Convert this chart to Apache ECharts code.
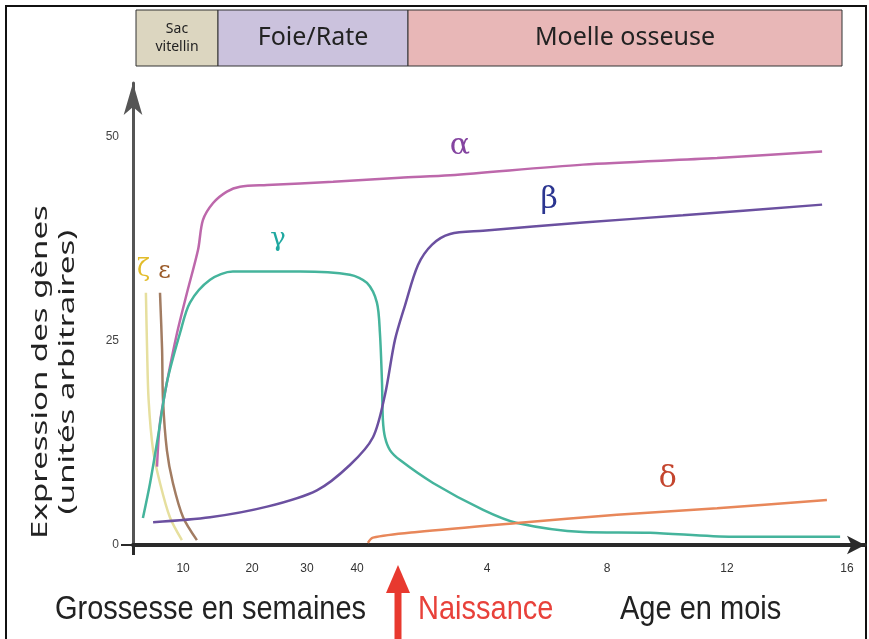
<!DOCTYPE html>
<html>
<head>
<meta charset="utf-8">
<script src="https://cdn.jsdelivr.net/npm/echarts@6/dist/echarts.min.js"></script>
<style>
  html, body, #main { margin: 0; padding: 0; width: 869px; height: 639px; overflow: hidden; background: #fff; }
</style>
</head>
<body>
<div id="main"></div>
<script>
// axe x : mois après la naissance (les semaines de grossesse sont placées avant 0)
const xTickPos = [-6.13, -3.83, -2.0, -0.33, 4, 8, 12, 16];
const xTickLabels = ["10", "20", "30", "40", "4", "8", "12", "16"];
const yTickVals = [0, 25, 50];

// courbes [x, expression]
const zetaData = [[-7.37, 30.9], [-7.33, 23.9], [-7.28, 17.8], [-7.13, 11.6], [-6.9, 7.6], [-6.57, 3.4], [-6.17, 0.6]];
const epsilonData = [[-6.9, 30.9], [-6.83, 23.9], [-6.8, 17.8], [-6.67, 11.6], [-6.47, 7.6], [-6.13, 3.4], [-5.67, 0.6]];
const alphaData = [[-7.0, 9.6], [-6.9, 15.0], [-6.67, 19.9], [-6.33, 26.0], [-6.0, 30.9], [-5.63, 36.2], [-5.47, 39.8],
  [-5.13, 41.9], [-4.67, 43.3], [-4.23, 43.9], [-3.33, 44.1], [-1.13, 44.5], [1.1, 45.0], [2.77, 45.3],
  [7.2, 46.6], [11.67, 47.4], [15.17, 48.2]];
const gammaData = [[-7.47, 3.3], [-7.23, 7.6], [-6.97, 13.2], [-6.67, 19.9], [-6.23, 26.0], [-5.9, 29.7], [-5.23, 32.5],
  [-4.47, 33.5], [-2.23, 33.5], [-0.57, 33.1], [0, 32.1], [0.33, 29.7], [0.43, 26.0], [0.5, 19.9], [0.53, 15.3],
  [0.6, 13.2], [0.77, 11.6], [1.1, 10.4], [2.2, 7.6], [3.87, 4.3], [5.0, 2.7], [7.2, 1.6], [9.43, 1.5],
  [12.2, 1.0], [15.77, 1.0]];
const betaData = [[-7.13, 2.8], [-5.23, 3.4], [-3.33, 4.7], [-1.67, 6.7], [-0.57, 9.8], [0.2, 13.2], [0.6, 18.4],
  [0.93, 25.1], [1.27, 29.4], [1.7, 34.3], [2.17, 36.8], [2.77, 38.1], [3.87, 38.5], [7.2, 39.5],
  [10.53, 40.4], [15.17, 41.7]];
const deltaData = [[0.03, 0.25], [0.2, 0.9], [1.67, 1.6], [5.0, 2.7], [8.33, 3.7], [11.67, 4.5], [15.33, 5.5]];

const bands = ["Sac\nvitellin", "Foie/Rate", "Moelle osseuse"];

let myChart = echarts.init(document.getElementById("main"));

function curve(name, data, color, label, labelCoord, labelColor, labelSize) {
  return {
    name: name,
    type: "line",
    data: data,
    symbol: "none",
    smooth: 0.3,
    lineStyle: { color: color, width: 2.5 },
    markPoint: {
      symbol: "circle",
      symbolSize: 1,
      itemStyle: { color: "transparent" },
      label: {
        show: true,
        position: "inside",
        formatter: label,
        color: labelColor,
        fontSize: labelSize,
        fontFamily: "DejaVu Serif"
      },
      data: [{ coord: labelCoord }]
    }
  };
}

let option = {
  animation: false,
  grid: { left: 133, right: 4, top: 83, bottom: 94 },
  xAxis: {
    type: "value",
    min: -7.8,
    max: 16.6,
    splitLine: { show: false },
    axisLine: {
      lineStyle: { color: "#2a2a2a", width: 4 },
      symbol: ["none", "arrow"],
      symbolSize: [14, 18]
    },
    axisTick: { show: true, customValues: [-7.8], length: 10, lineStyle: { color: "#2a2a2a", width: 3 } },
    axisLabel: {
      customValues: xTickPos,
      formatter: function (v) {
        return xTickLabels[xTickPos.indexOf(v)];
      },
      color: "#333",
      fontSize: 12,
      margin: 18
    }
  },
  yAxis: {
    type: "value",
    min: 0,
    max: 56.6,
    splitLine: { show: false },
    axisLine: {
      onZero: false,
      lineStyle: { color: "#555", width: 3 },
      symbol: ["none", "arrow"],
      symbolSize: [14, 32]
    },
    axisTick: { show: true, customValues: [0], length: 12, lineStyle: { color: "#2a2a2a", width: 2 } },
    axisLabel: { customValues: yTickVals, color: "#444", fontSize: 12, margin: 14 }
  },
  series: [
    curve("ζ", zetaData, "#e6df9e", "ζ", [-7.45, 33.7], "#e2bc2a", 24),
    curve("ε", epsilonData, "#a27c62", "ε", [-6.75, 33.5], "#9a5a28", 24),
    curve("α", alphaData, "#bd68ab", "α", [3.1, 48.8], "#8444a0", 30),
    curve("γ", gammaData, "#45b49c", "γ", [-2.97, 37.4], "#1fa8a0", 26),
    curve("β", betaData, "#6b50a0", "β", [6.07, 42.3], "#2b3590", 30),
    curve("δ", deltaData, "#e8875a", "δ", [10.03, 8.0], "#c4452e", 30)
  ],
  graphic: [
    // cadre
    { type: "rect", shape: { x: 6, y: 6, width: 860, height: 640 }, style: { fill: "none", stroke: "#111", lineWidth: 2 } },
    // bandeau du haut
    { type: "rect", shape: { x: 136, y: 10, width: 82, height: 56 }, style: { fill: "#dcd6c0", stroke: "#333", lineWidth: 1 } },
    { type: "rect", shape: { x: 218, y: 10, width: 190, height: 56 }, style: { fill: "#cbc2dd", stroke: "#333", lineWidth: 1 } },
    { type: "rect", shape: { x: 408, y: 10, width: 434, height: 56 }, style: { fill: "#e8b7b7", stroke: "#333", lineWidth: 1 } },
    { type: "text", x: 177, y: 38, style: { text: bands[0], fill: "#222", font: "14px 'Noto Sans'", align: "center", verticalAlign: "middle", lineHeight: 18 } },
    { type: "text", x: 313, y: 38, style: { text: bands[1], fill: "#222", font: "25px 'Noto Sans'", align: "center", verticalAlign: "middle" } },
    { type: "text", x: 625, y: 38, style: { text: bands[2], fill: "#222", font: "25px 'Noto Sans'", align: "center", verticalAlign: "middle" } },
    // titre de l'axe y
    { type: "text", x: 54, y: 372, rotation: Math.PI / 2, scaleX: 1.5,
      style: { text: "Expression des gènes\n(unités arbitraires)", fill: "#222", font: "22px 'Noto Sans'", align: "center", verticalAlign: "middle", lineHeight: 27 } },
    // légendes du bas
    { type: "text", x: 55, y: 610, scaleY: 1.15, style: { text: "Grossesse en semaines", fill: "#222", font: "29px 'Liberation Sans'", verticalAlign: "middle" } },
    { type: "text", x: 418, y: 610, scaleY: 1.15, style: { text: "Naissance", fill: "#e8413a", font: "29px 'Liberation Sans'", verticalAlign: "middle" } },
    { type: "text", x: 620, y: 610, scaleY: 1.15, style: { text: "Age en mois", fill: "#222", font: "29px 'Liberation Sans'", verticalAlign: "middle" } },
    // flèche naissance
    { type: "rect", shape: { x: 394.5, y: 590, width: 7, height: 50 }, style: { fill: "#e8392f" } },
    { type: "polygon", shape: { points: [[386, 593], [410, 593], [398, 565]] }, style: { fill: "#e8392f" } }
  ]
};

myChart.setOption(option);
window.onresize = myChart.resize;
</script>
</body>
</html>
